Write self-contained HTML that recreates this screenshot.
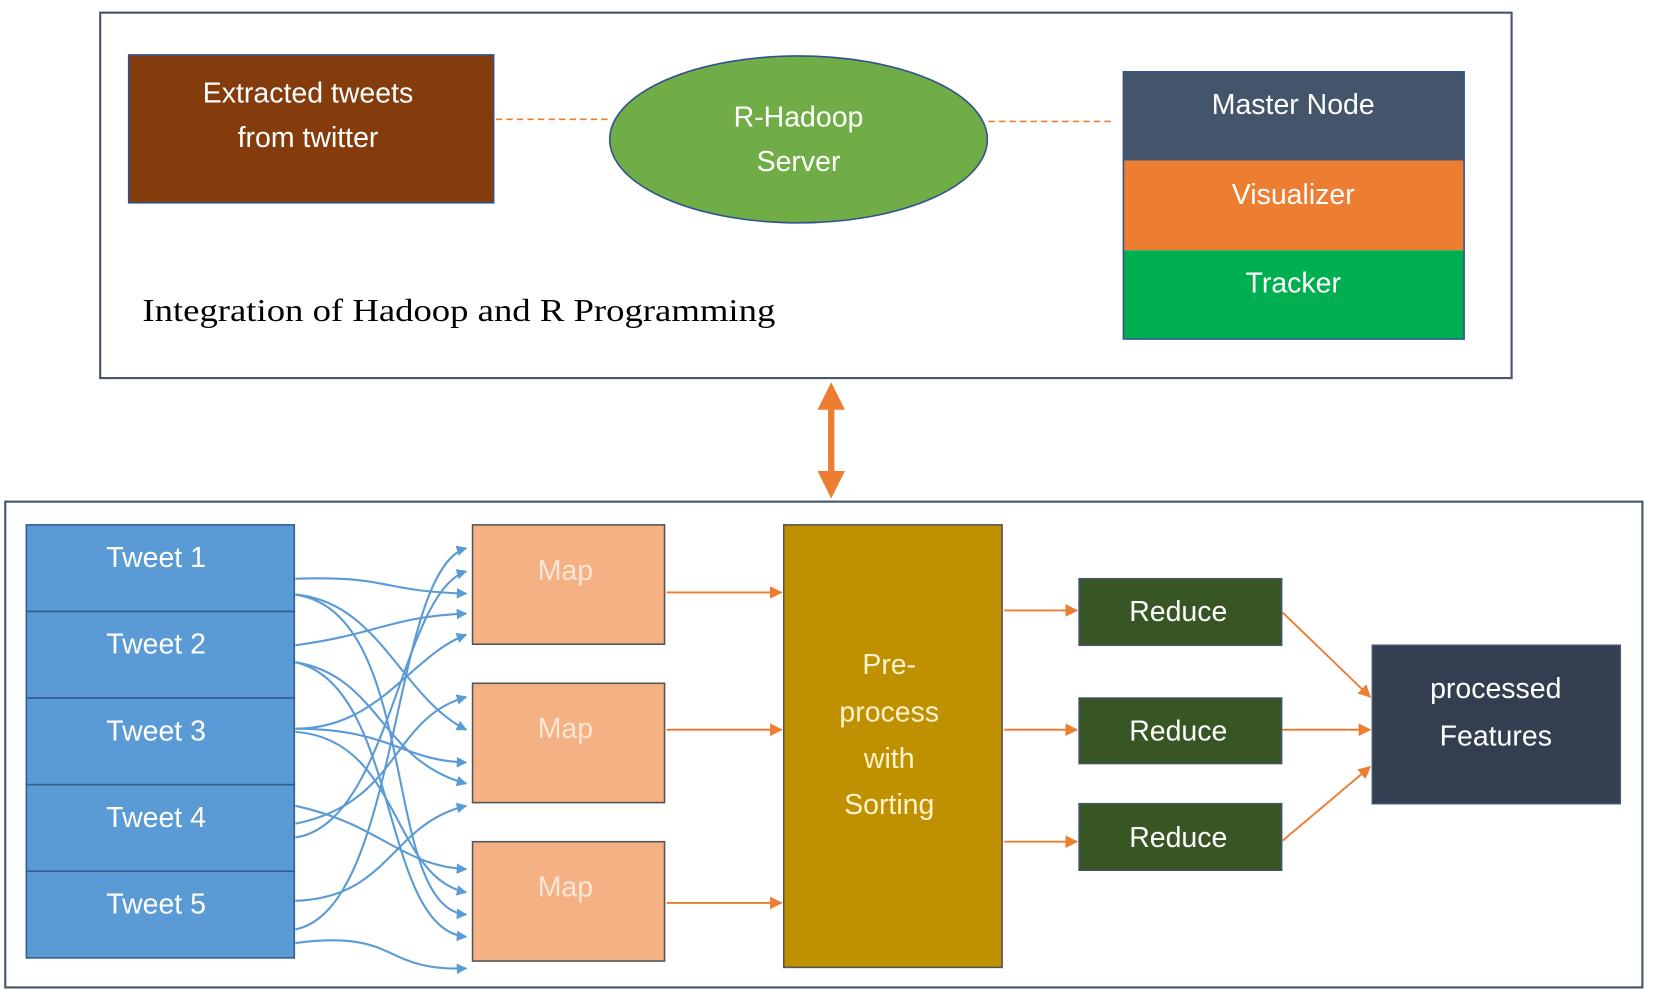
<!DOCTYPE html>
<html><head><meta charset="utf-8"><style>
html,body{margin:0;padding:0;background:#fff;}
svg{display:block}
text{font-family:"Liberation Sans","DejaVu Sans",sans-serif;}
</style></head><body>
<svg width="1654" height="998" viewBox="0 0 1568 945" preserveAspectRatio="none" xmlns="http://www.w3.org/2000/svg">
<defs>
<marker id="ab" markerWidth="10" markerHeight="10" refX="9" refY="5" orient="auto" markerUnits="userSpaceOnUse"><path d="M0,0 L10,5 L0,10 z" fill="#5B9BD5"/></marker>
<marker id="ao" markerWidth="12" markerHeight="12" refX="11" refY="6" orient="auto" markerUnits="userSpaceOnUse"><path d="M0,0 L12,6 L0,12 z" fill="#ED7D31"/></marker>
</defs>
<!-- top frame -->
<rect x="95" y="12" width="1338" height="346" fill="#fff" stroke="#44546A" stroke-width="2"/>
<rect x="122" y="52" width="346" height="140" fill="#843C0C" stroke="#2F528F" stroke-width="1.5"/>
<text x="292" y="97" fill="#fff" font-size="27" text-anchor="middle">Extracted tweets</text>
<text x="292" y="139" fill="#fff" font-size="27" text-anchor="middle">from twitter</text>
<line x1="470" y1="113" x2="578" y2="113" stroke="#ED7D31" stroke-width="1.5" stroke-dasharray="6,4"/>
<ellipse cx="757" cy="132" rx="179" ry="79" fill="#70AD47" stroke="#2F528F" stroke-width="1.5"/>
<text x="757" y="120" fill="#fff" font-size="27" text-anchor="middle">R-Hadoop</text>
<text x="757" y="162" fill="#fff" font-size="27" text-anchor="middle">Server</text>
<line x1="937" y1="115" x2="1055" y2="115" stroke="#ED7D31" stroke-width="1.5" stroke-dasharray="6,4"/>
<rect x="1065" y="68" width="323" height="84" fill="#44546A"/>
<rect x="1065" y="152" width="323" height="85" fill="#ED7D31"/>
<rect x="1065" y="237" width="323" height="84" fill="#00B050"/>
<rect x="1065" y="68" width="323" height="253" fill="none" stroke="#2F528F" stroke-width="1.5"/>
<text x="1226" y="108" fill="#fff" font-size="27" text-anchor="middle">Master Node</text>
<text x="1226" y="193" fill="#fff" font-size="27" text-anchor="middle">Visualizer</text>
<text x="1226" y="277" fill="#fff" font-size="27" text-anchor="middle">Tracker</text>
<text x="135" y="304" fill="#000" font-size="30" textLength="600" lengthAdjust="spacingAndGlyphs" style="font-family:'Liberation Serif',serif">Integration of Hadoop and R Programming</text>
<!-- double arrow -->
<line x1="788" y1="385" x2="788" y2="448" stroke="#ED7D31" stroke-width="6"/>
<path d="M788,362 L801,388 L775,388 z" fill="#ED7D31"/>
<path d="M788,472 L801,446 L775,446 z" fill="#ED7D31"/>
<!-- bottom frame -->
<rect x="5" y="475" width="1552" height="460" fill="#fff" stroke="#44546A" stroke-width="2"/>
<g fill="#5B9BD5" stroke="#2E5F8F" stroke-width="1.5">
<rect x="25" y="497" width="254" height="82"/><rect x="25" y="579" width="254" height="82"/><rect x="25" y="661" width="254" height="82"/><rect x="25" y="743" width="254" height="82"/><rect x="25" y="825" width="254" height="82"/>
</g>
<g fill="#fff" font-size="27" text-anchor="middle">
<text x="148" y="537">Tweet 1</text><text x="148" y="619">Tweet 2</text><text x="148" y="701">Tweet 3</text><text x="148" y="783">Tweet 4</text><text x="148" y="865">Tweet 5</text>
</g>
<!-- blue curves -->
<g fill="none" stroke="#5B9BD5" stroke-width="2" marker-end="url(#ab)">
<path d="M280,548 C370,545 360,560 442,562"/>
<path d="M280,563 C360,570 380,660 442,691"/>
<path d="M280,563 C400,580 360,860 442,866"/>
<path d="M280,611 C360,600 370,584 442,581"/>
<path d="M280,627 C360,640 360,720 442,742"/>
<path d="M280,627 C380,650 360,880 442,887"/>
<path d="M280,690 C360,690 390,620 442,601"/>
<path d="M280,690 C370,690 380,720 442,722"/>
<path d="M280,693 C380,700 370,830 442,845"/>
<path d="M280,763 C360,780 380,820 442,823"/>
<path d="M280,780 C380,760 370,680 442,660"/>
<path d="M280,793 C370,780 380,560 442,541"/>
<path d="M280,853 C370,850 370,780 442,763"/>
<path d="M280,880 C380,860 370,540 442,519"/>
<path d="M280,893 C380,880 360,920 442,917"/>
</g>
<g fill="#F4B183" stroke="#555" stroke-width="1.5">
<rect x="448" y="497" width="182" height="113"/><rect x="448" y="647" width="182" height="113"/><rect x="448" y="797" width="182" height="113"/>
</g>
<g fill="#FBE5D6" font-size="27" text-anchor="middle">
<text x="536" y="549">Map</text><text x="536" y="699">Map</text><text x="536" y="849">Map</text>
</g>
<rect x="743" y="497" width="207" height="419" fill="#BF9000" stroke="#555" stroke-width="1.5"/>
<g fill="#FFF2CC" font-size="27" text-anchor="middle">
<text x="843" y="638">Pre-</text><text x="843" y="683">process</text><text x="843" y="727">with</text><text x="843" y="771">Sorting</text>
</g>
<g stroke="#ED7D31" stroke-width="1.8" marker-end="url(#ao)">
<line x1="632" y1="561" x2="741" y2="561"/><line x1="632" y1="691" x2="741" y2="691"/><line x1="632" y1="855" x2="741" y2="855"/>
<line x1="952" y1="578" x2="1021" y2="578"/><line x1="952" y1="691" x2="1021" y2="691"/><line x1="952" y1="797" x2="1021" y2="797"/>
<line x1="1216" y1="580" x2="1299" y2="660"/><line x1="1216" y1="691" x2="1299" y2="691"/><line x1="1216" y1="796" x2="1299" y2="726"/>
</g>
<g fill="#375623" stroke="#44546A" stroke-width="1.5">
<rect x="1023" y="548" width="192" height="63"/><rect x="1023" y="661" width="192" height="62"/><rect x="1023" y="761" width="192" height="63"/>
</g>
<g fill="#fff" font-size="27" text-anchor="middle">
<text x="1117" y="588">Reduce</text><text x="1117" y="701">Reduce</text><text x="1117" y="802">Reduce</text>
</g>
<rect x="1301" y="611" width="235" height="150" fill="#333F50" stroke="#44546A" stroke-width="1.5"/>
<text x="1418" y="661" fill="#fff" font-size="27" text-anchor="middle">processed</text>
<text x="1418" y="706" fill="#fff" font-size="27" text-anchor="middle">Features</text>
</svg>
</body></html>
